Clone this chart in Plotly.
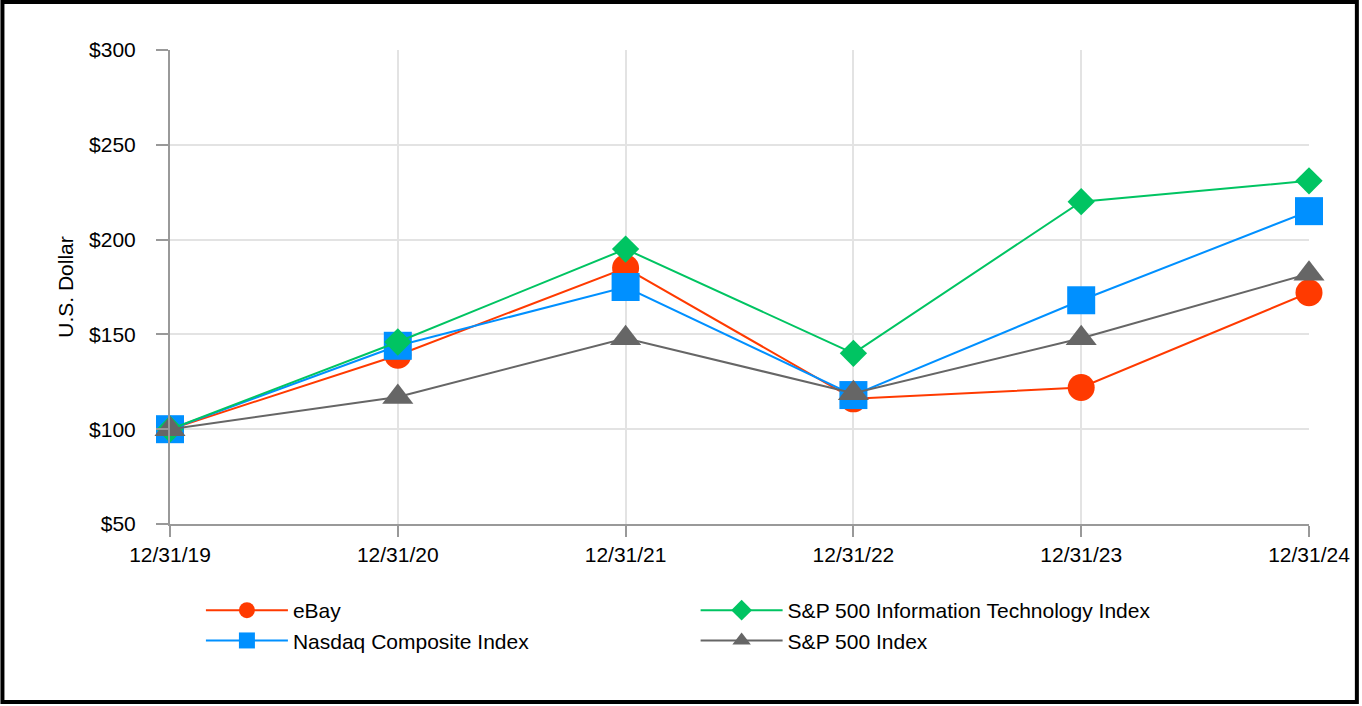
import plotly.graph_objects as go

dates = ["12/31/19", "12/31/20", "12/31/21", "12/31/22", "12/31/23", "12/31/24"]
ebay = [100, 139, 185, 116, 122, 172]
nasdaq = [100, 144, 175, 118, 168, 215]
sp_it = [100, 146, 195, 140, 220, 231]
sp500 = [100, 117, 148, 119, 148, 182]

FONT = "Liberation Sans, Arial, sans-serif"

series = [
    ("eBay", ebay, "#FF3A00", "circle", 27, "legend"),
    ("Nasdaq Composite Index", nasdaq, "#0090FF", "square", 28, "legend"),
    ("S&P 500 Information Technology Index", sp_it, "#00C462", "diamond", 21, "legend2"),
    ("S&P 500 Index", sp500, "#666666", "triangle-up", 27, "legend2"),
]

fig = go.Figure()
for name, vals, color, sym, size, lg in series:
    fig.add_trace(go.Scatter(
        x=dates, y=vals, name=name, mode="lines+markers",
        line=dict(color=color, width=2),
        marker=dict(symbol=sym, size=size, color=color, line=dict(width=0)),
        legend=lg, cliponaxis=False,
    ))

L, R, T, B = 170, 50, 50, 182
W, H = 1362, 706
pw, ph = W - L - R, H - T - B

legend_common = dict(
    font=dict(family=FONT, size=21, color="#000000"),
    bgcolor="rgba(0,0,0,0)", itemwidth=82, xanchor="left", yanchor="top",
    tracegroupgap=0, orientation="v",
)

fig.update_layout(
    width=W, height=H, autosize=False,
    margin=dict(l=L, r=R, t=T, b=B),
    paper_bgcolor="white", plot_bgcolor="white",
    font=dict(family=FONT, size=21, color="#000000"),
    showlegend=True,
    legend=dict(x=(201 - L) / pw, y=(524 - 590) / ph, **legend_common),
    legend2=dict(x=(697 - L) / pw, y=(524 - 590) / ph, **legend_common),
    xaxis=dict(
        type="category", range=[0, 5],
        showline=True, linecolor="#999999", linewidth=2,
        ticks="outside", ticklen=11, tickcolor="#999999", tickwidth=2,
        showgrid=True, gridcolor="#E3E3E3", gridwidth=2,
        tickfont=dict(family=FONT, size=21, color="#000000"),
        zeroline=False,
    ),
    yaxis=dict(
        range=[50, 300], dtick=50, tick0=50, tickprefix="$",
        showline=True, linecolor="#999999", linewidth=2,
        ticks="outside", ticklen=12, tickcolor="#999999", tickwidth=2,
        showgrid=True, gridcolor="#E3E3E3", gridwidth=2,
        tickfont=dict(family=FONT, size=21, color="#000000"),
        ticklabelstandoff=16,
        title=dict(text="U.S. Dollar", font=dict(family=FONT, size=21, color="#000000"), standoff=10),
        zeroline=False,
    ),
)

fig.add_shape(
    type="rect", xref="paper", yref="paper",
    x0=(2 - L) / pw, x1=(1360 - L) / pw,
    y0=(524 - 702) / ph, y1=(524 - 2) / ph,
    line=dict(color="#000000", width=4), fillcolor="rgba(0,0,0,0)", layer="above",
)

fig.write_html("out.html", config={"displayModeBar": False, "responsive": False})

with open("out.html", "r", encoding="utf-8") as f:
    html = f.read()
html = html.replace("<head>", "<head><style>html,body{margin:0;padding:0;overflow:hidden;}</style>", 1)
with open("out.html", "w", encoding="utf-8") as f:
    f.write(html)
